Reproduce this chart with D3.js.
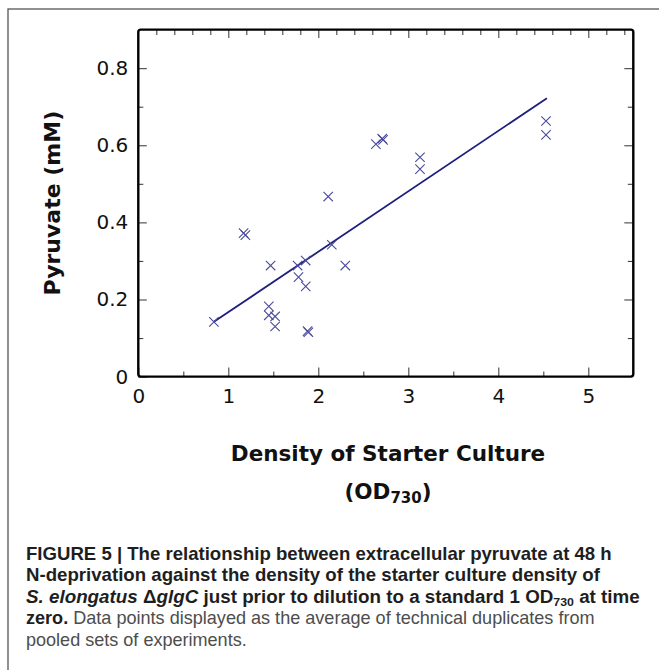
<!DOCTYPE html>
<html>
<head>
<meta charset="utf-8">
<script src="https://cdn.jsdelivr.net/npm/d3@7"></script>
<style>
  body { margin: 0; background: #fff; }
  svg { display: block; }
</style>
</head>
<body>
<div id="chart"></div>
<script>
/* Pyruvate vs starter culture density scatter, with fitted line */

// starter culture density (OD730) and pyruvate (mM), one entry per point
const densityOD = [0.84, 1.17, 1.19, 1.47, 1.45, 1.45, 1.52, 1.52, 1.77, 1.86, 1.78, 1.86,
                   1.88, 1.89, 2.11, 2.15, 2.30, 2.64, 2.71, 2.72, 3.13, 3.13, 4.53, 4.53];
const pyruvate  = [0.142, 0.372, 0.367, 0.288, 0.182, 0.159, 0.156, 0.130, 0.288, 0.301, 0.258, 0.234,
                   0.118, 0.115, 0.467, 0.342, 0.288, 0.603, 0.617, 0.614, 0.569, 0.538, 0.663, 0.627];

// regression line end points
const fitX = [0.84, 4.54];
const fitY = [0.142, 0.722];

const xTickLabels = [0, 1, 2, 3, 4, 5];
const yTickLabels = [0, 0.2, 0.4, 0.6, 0.8];

const captionLines = [
    [{t: "FIGURE 5 | The relationship between extracellular pyruvate at 48 h", w: "bold"}],
    [{t: "N-deprivation against the density of the starter culture density of", w: "bold"}],
    [{t: "S. elongatus ", w: "bold", i: true}, {t: "\u0394", w: "bold"}, {t: "glgC", w: "bold", i: true},
     {t: " just prior to dilution to a standard 1 OD", w: "bold"}, {t: "730", w: "bold", sub: true},
     {t: " at time", w: "bold"}],
    [{t: "zero.", w: "bold"}, {t: " Data points displayed as the average of technical duplicates from", w: "normal"}],
    [{t: "pooled sets of experiments.", w: "normal"}]
];

const width = 659,
    height = 670,
    margin = ({top: 29.6, right: 25.7, bottom: 293, left: 138.3});

let svg = d3.select("#chart")
    .append("svg")
    .attr("width", width)
    .attr("height", height);

// outer figure box (runs off the right and bottom edge)
svg.append("rect")
    .attr("x", 8).attr("y", 9)
    .attr("width", 700).attr("height", 700)
    .attr("fill", "none")
    .attr("stroke", "#555")
    .attr("stroke-width", 1.3);

let x = d3.scaleLinear()
    .domain([0, 5.5])
    .range([margin.left, width - margin.right]);

let y = d3.scaleLinear()
    .domain([0, 0.9])
    .range([height - margin.bottom - 0.4, margin.top]);

const tickColor = "#444";

function styleAxis(g) {
    g.select(".domain").remove();
    g.selectAll(".tick line").attr("stroke", tickColor).attr("stroke-width", 1.1);
    g.selectAll(".tick text")
        .attr("font-family", "'DejaVu Sans', Verdana, sans-serif")
        .attr("font-size", 20)
        .attr("fill", "#111");
}

const x0 = y.range()[0], y1 = y.range()[1];

// bottom axis: labelled integers, minor ticks at 0.5
svg.append("g")
    .attr("transform", `translate(0,${x0})`)
    .call(d3.axisBottom(x).tickValues(d3.range(0.5, 5.5, 1)).tickSize(-5).tickFormat(""))
    .call(styleAxis);
svg.append("g")
    .attr("transform", `translate(0,${x0})`)
    .call(d3.axisBottom(x).tickValues(xTickLabels).tickSize(-9).tickFormat(d3.format("d")))
    .call(styleAxis)
    .call(g => g.selectAll(".tick text").attr("dy", "0.78em").attr("y", 11));

// top axis: minor ticks every 0.2, longer at integers
svg.append("g")
    .attr("transform", `translate(0,${y1})`)
    .call(d3.axisTop(x).tickValues(d3.range(0.2, 5.5, 0.2).filter(v => Math.abs(v - Math.round(v)) > 0.01))
        .tickSize(-5.5).tickFormat(""))
    .call(styleAxis);
svg.append("g")
    .attr("transform", `translate(0,${y1})`)
    .call(d3.axisTop(x).tickValues([1, 2, 3, 4, 5]).tickSize(-8.5).tickFormat(""))
    .call(styleAxis);

// left axis
svg.append("g")
    .attr("transform", `translate(${margin.left},0)`)
    .call(d3.axisLeft(y).tickValues([0.1, 0.3, 0.5, 0.7]).tickSize(-5).tickFormat(""))
    .call(styleAxis);
svg.append("g")
    .attr("transform", `translate(${margin.left},0)`)
    .call(d3.axisLeft(y).tickValues(yTickLabels).tickSize(-8.5).tickPadding(10)
        .tickFormat(d => d === 0 ? "0" : d3.format(".1f")(d)))
    .call(styleAxis);

// right axis
svg.append("g")
    .attr("transform", `translate(${width - margin.right},0)`)
    .call(d3.axisRight(y).tickValues([0.1, 0.3, 0.5, 0.7]).tickSize(-5.5).tickFormat(""))
    .call(styleAxis);
svg.append("g")
    .attr("transform", `translate(${width - margin.right},0)`)
    .call(d3.axisRight(y).tickValues([0.2, 0.4, 0.6, 0.8]).tickSize(-9).tickFormat(""))
    .call(styleAxis);

// plot frame
svg.append("rect")
    .attr("x", margin.left)
    .attr("y", y1)
    .attr("width", width - margin.right - margin.left)
    .attr("height", x0 - y1)
    .attr("rx", 2.5)
    .attr("fill", "none")
    .attr("stroke", "#000")
    .attr("stroke-width", 2.4);

// fitted line
svg.append("path")
    .datum(d3.zip(fitX, fitY))
    .attr("d", d3.line().x(d => x(d[0])).y(d => y(d[1])))
    .attr("fill", "none")
    .attr("stroke", "#1e1e7c")
    .attr("stroke-width", 1.8);

// data points as crosses
svg.selectAll(".pt")
    .data(d3.zip(densityOD, pyruvate))
    .join("path")
    .attr("class", "pt")
    .attr("transform", d => `translate(${x(d[0])},${y(d[1])})`)
    .attr("d", "M-4.7,-4.7L4.7,4.7M-4.7,4.7L4.7,-4.7")
    .attr("fill", "none")
    .attr("stroke", "#4a4a9c")
    .attr("stroke-width", 1.1);

// axis titles
const titleFont = "'DejaVu Sans', Verdana, sans-serif";

svg.append("text")
    .attr("transform", `translate(60,${(x0 + y1) / 2}) rotate(-90)`)
    .attr("text-anchor", "middle")
    .attr("font-family", titleFont)
    .attr("font-weight", "bold")
    .attr("font-size", 22)
    .attr("fill", "#111")
    .text("Pyruvate (mM)");

let xTitle = svg.append("text")
    .attr("text-anchor", "middle")
    .attr("font-family", titleFont)
    .attr("font-weight", "bold")
    .attr("font-size", 21.5)
    .attr("fill", "#111");
xTitle.append("tspan").attr("x", 388).attr("y", 461).text("Density of Starter Culture");
let od = xTitle.append("tspan").attr("x", 388).attr("y", 499);
od.append("tspan").text("(OD");
od.append("tspan").attr("font-size", 15).attr("dy", 4).text("730");
od.append("tspan").attr("dy", -4).text(")");

// caption
const capRight = [612, 600, 640, 595, 247];
const capBase = [559.5, 581, 602.5, 624, 645.5];

captionLines.forEach((line, i) => {
    let t = svg.append("text")
        .attr("font-family", "'Liberation Sans', Arial, sans-serif")
        .attr("font-size", 17.5)
        .attr("fill", "#222");
    line.forEach((p, j) => {
        let s = t.append("tspan")
            .attr("font-weight", p.w)
            .attr("font-style", p.i ? "italic" : "normal")
            .attr("fill", p.w === "normal" ? "#4d4d4d" : "#1e1e1e")
            .text(p.t);
        if (p.sub) {
            s.attr("font-size", 11.5).attr("dy", 3);
        } else if (j > 0 && line[j - 1].sub) {
            s.attr("dy", -3);
        }
    });
    const natural = t.node().getComputedTextLength();
    const k = (capRight[i] - 26) / natural;
    t.attr("transform", `translate(26,${capBase[i]}) scale(${k},1)`);
});
</script>
</body>
</html>
